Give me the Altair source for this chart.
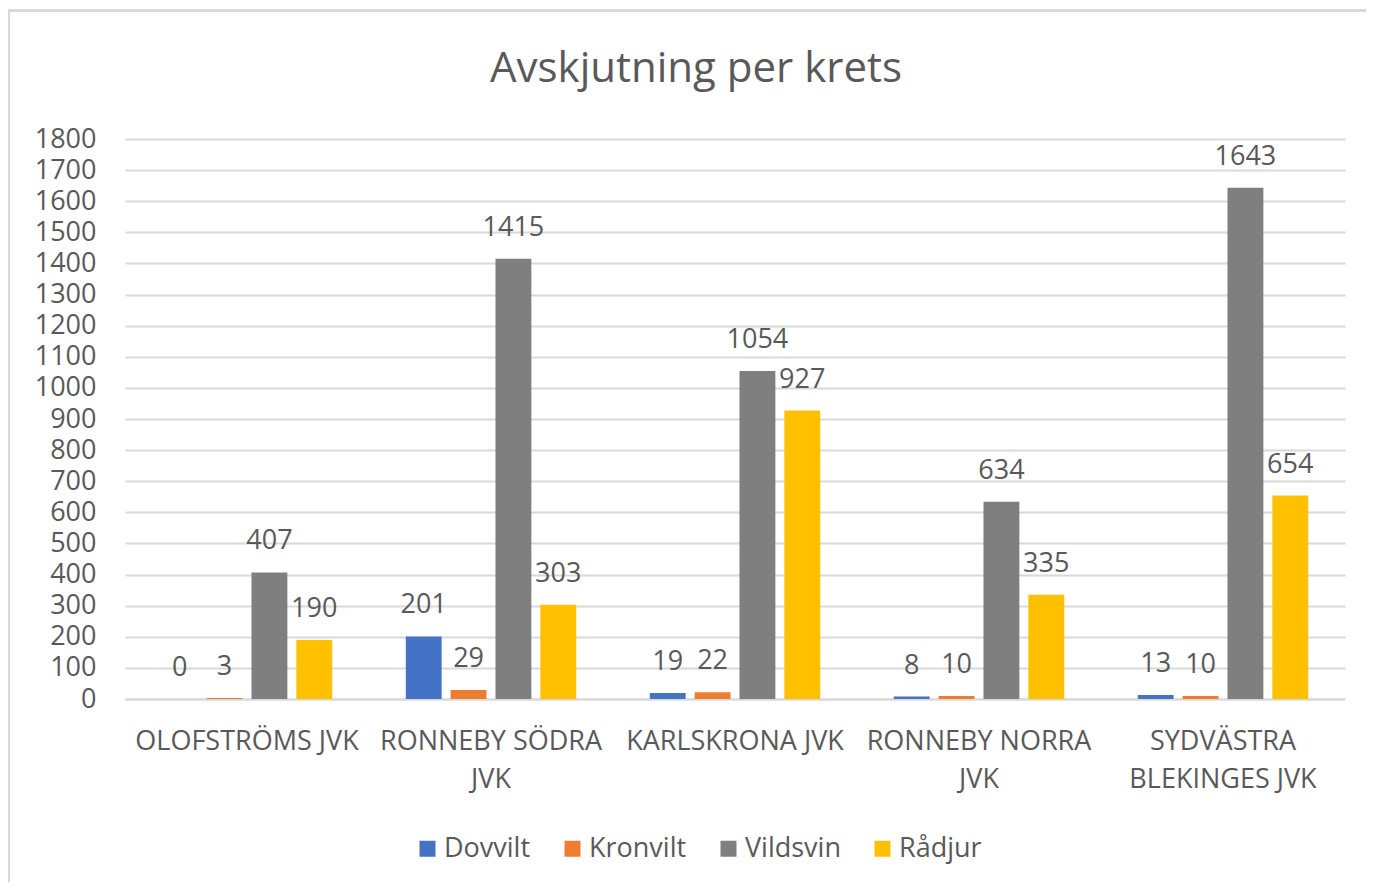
import altair as alt
import pandas as pd

categories = ["OLOFSTRÖMS JVK", "RONNEBY SÖDRA|JVK", "KARLSKRONA JVK",
              "RONNEBY NORRA|JVK", "SYDVÄSTRA|BLEKINGES JVK"]
series = ["Dovvilt", "Kronvilt", "Vildsvin", "Rådjur"]
dovvilt = [0, 201, 19, 8, 13]
kronvilt = [3, 29, 22, 10, 10]
vildsvin = [407, 1415, 1054, 634, 1643]
radjur = [190, 303, 927, 335, 654]
colors = ["#4472C4", "#ED7D31", "#7F7F7F", "#FFC000"]
y_ticks = [0, 100, 200, 300, 400, 500, 600, 700, 800, 900, 1000,
           1100, 1200, 1300, 1400, 1500, 1600, 1700, 1800]

rows = []
for name, vals in zip(series, [dovvilt, kronvilt, vildsvin, radjur]):
    for cat, v in zip(categories, vals):
        rows.append({"krets": cat, "art": name, "antal": v})
df = pd.DataFrame(rows)

FONT = "Open Sans"
TXT = "#595959"
FS = 27
W, H = 1220, 560

base = alt.Chart(df).encode(
    x=alt.X("krets:N", sort=categories, title=None,
            scale=alt.Scale(paddingInner=0, paddingOuter=0),
            axis=alt.Axis(labelExpr="split(datum.value, '|')", labelAngle=0,
                          labelFontSize=FS, labelColor=TXT, labelFont=FONT,
                          labelLineHeight=38, labelPadding=29, ticks=False,
                          domainColor="#D9D9D9", domainWidth=2, grid=False,
                          labelBaseline="top", labelLimit=0)),
    xOffset=alt.XOffset("art:N", sort=series,
                        scale=alt.Scale(domain=series, paddingInner=0.2, paddingOuter=0.82)),
    y=alt.Y("antal:Q", title=None,
            scale=alt.Scale(domain=[0, 1800], nice=False),
            axis=alt.Axis(values=y_ticks, format="d", labelFontSize=FS, labelColor=TXT,
                          labelFont=FONT, labelPadding=29, ticks=False,
                          domain=False, gridColor="#D9D9D9", gridWidth=2)),
)

bars = base.mark_bar().encode(
    color=alt.Color("art:N", sort=series,
                    scale=alt.Scale(domain=series, range=colors),
                    legend=alt.Legend(title=None, orient="none", direction="horizontal",
                                      legendX=289, legendY=696,
                                      symbolType="square", symbolSize=256,
                                      symbolStrokeWidth=0, labelFontSize=FS,
                                      labelColor=TXT, labelFont=FONT,
                                      columnPadding=28, labelOffset=3, padding=0))
)

labels = base.mark_text(baseline="alphabetic", dy=-23, fontSize=FS,
                        color=TXT, font=FONT).encode(text="antal:Q")

frame = alt.Chart(pd.DataFrame({"a": [0]})).mark_rect(
    fill=None, stroke="#D9D9D9", strokeWidth=3
).encode(x=alt.value(-116.5), y=alt.value(-128.5),
         x2=alt.value(1400), y2=alt.value(900))

chart = alt.layer(frame, bars, labels).properties(
    width=W, height=H,
    title=alt.TitleParams("Avskjutning per krets", fontSize=42, font=FONT,
                          color=TXT, fontWeight="normal", anchor="middle",
                          baseline="alphabetic", offset=-115, dx=-39),
    autosize=alt.AutoSizeParams(type="none"),
    padding={"left": 117, "top": 131, "right": 21, "bottom": 183},
).configure(background="white").configure_view(stroke=None)

chart.save("out.html", embed_options={"renderer": "svg", "actions": False})
